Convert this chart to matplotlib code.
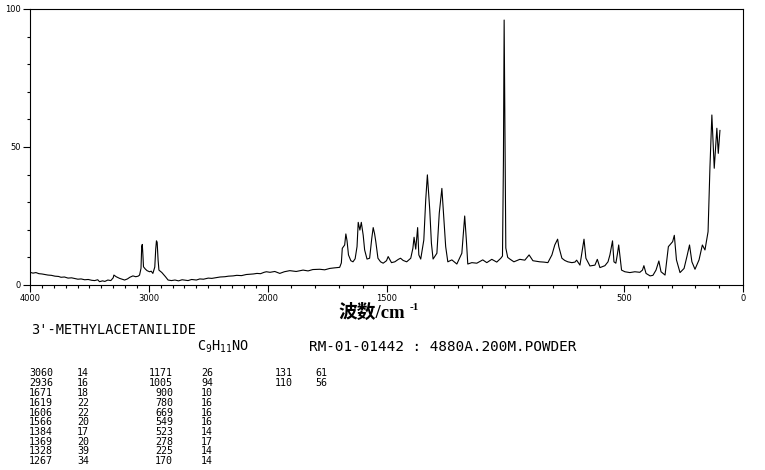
import numpy as np
from matplotlib import pyplot as plt
from matplotlib.ticker import MultipleLocator

# spectrum: wavenumber (cm-1) / relative intensity
wavenumber = [4000, 3975, 3950, 3925, 3900, 3875, 3849, 3820, 3790, 3760,
              3739, 3710, 3680, 3650, 3620, 3597, 3570, 3540, 3510, 3480,
              3456, 3430, 3415, 3390, 3370, 3345, 3320, 3300, 3294, 3275,
              3246, 3225, 3204, 3180, 3160, 3134, 3110, 3090, 3078, 3066,
              3060, 3055, 3050, 3045, 3030, 3015, 2994, 2980, 2966, 2950,
              2942, 2936, 2930, 2922, 2915, 2890, 2860, 2838, 2810, 2780,
              2750, 2720, 2690, 2670, 2640, 2600, 2571, 2540, 2500, 2470,
              2431, 2400, 2360, 2330, 2291, 2260, 2220, 2180, 2151, 2120,
              2090, 2060, 2030, 2011, 1990, 1970, 1949, 1930, 1907, 1880,
              1851, 1830, 1810, 1781, 1760, 1739, 1720, 1697, 1690, 1686,
              1676, 1671, 1666, 1660, 1650, 1641, 1632, 1624, 1619, 1612,
              1606, 1598, 1592, 1582, 1571, 1562, 1556, 1550, 1545, 1536,
              1525, 1514, 1500, 1493, 1485, 1479, 1465, 1450, 1441, 1430,
              1415, 1398, 1389, 1384, 1377, 1369, 1364, 1356, 1343, 1335,
              1328, 1318, 1311, 1304, 1288, 1278, 1267, 1259, 1251, 1242,
              1225, 1204, 1183, 1171, 1164, 1158, 1141, 1120, 1095, 1078,
              1057, 1036, 1019, 1012, 1008, 1005, 1002, 998, 990, 981,
              964, 950, 939, 918, 900, 884, 870, 855, 838, 821,
              804, 792, 780, 775, 762, 750, 737, 720, 707, 700,
              686, 676, 669, 661, 644, 623, 613, 602, 581, 568,
              560, 549, 543, 535, 529, 523, 511, 497, 476, 455,
              434, 423, 417, 408, 391, 379, 366, 354, 345, 328,
              314, 296, 289, 280, 265, 248, 236, 225, 215, 202,
              185, 171, 160, 147, 139, 131, 121, 110, 104, 97]
intensity = [4.6, 4.3, 4.5, 4.1, 4.0, 3.8, 3.6, 3.5, 3.2, 3.1,
             2.8, 2.9, 2.5, 2.6, 2.3, 2.1, 2.2, 1.9, 2.0, 1.7,
             1.6, 1.9, 1.2, 1.5, 1.3, 1.8, 1.6, 2.6, 3.6, 3.0,
             2.4, 2.1, 1.8, 2.2, 2.8, 3.3, 3.0, 3.2, 3.6, 6.0,
             14.0, 14.7, 11.0, 6.6, 5.8, 5.2, 4.8, 5.0, 4.2, 6.5,
             13.0, 16.0, 15.5, 9.0, 5.4, 4.5, 3.0, 1.8, 1.6, 1.8,
             1.5, 1.9, 1.7, 1.6, 2.0, 1.8, 2.2, 2.1, 2.5, 2.4,
             2.7, 2.9, 3.0, 3.2, 3.3, 3.5, 3.4, 3.8, 3.9, 4.0,
             4.2, 4.1, 4.6, 4.8, 4.6, 4.9, 4.2, 4.8, 5.2, 4.9,
             5.4, 5.1, 5.6, 5.7, 5.5, 6.0, 6.2, 6.4, 8.0, 13.3,
             14.5, 18.5, 16.0, 10.9, 8.8, 8.4, 9.5, 13.9, 22.7, 19.9,
             22.7, 18.0, 12.7, 9.4, 9.7, 16.9, 20.8, 18.5, 15.7, 9.7,
             8.4, 7.9, 8.8, 10.3, 9.0, 8.1, 8.4, 9.3, 9.7, 8.9,
             8.4, 9.7, 13.3, 17.3, 13.0, 20.8, 10.9, 9.4, 16.3, 30.8,
             39.9, 27.2, 15.1, 9.4, 11.5, 26.0, 35.0, 24.2, 13.9, 8.4,
             9.1, 7.6, 11.5, 25.0, 16.3, 7.6, 8.1, 7.9, 9.1, 8.1,
             9.3, 8.3, 9.7, 10.5, 45.0, 96.0, 60.0, 13.4, 10.0, 9.4,
             8.4, 8.9, 9.3, 9.0, 10.9, 8.8, 8.6, 8.4, 8.3, 8.1,
             10.9, 14.5, 16.6, 13.9, 9.7, 8.9, 8.4, 8.1, 8.3, 9.0,
             7.2, 12.7, 16.6, 9.7, 6.9, 7.2, 9.3, 6.3, 7.0, 8.4,
             10.9, 16.0, 8.4, 7.9, 10.9, 14.5, 5.4, 4.8, 4.5, 4.8,
             4.6, 5.4, 7.0, 4.2, 3.3, 3.5, 5.4, 8.7, 4.8, 3.6,
             13.9, 15.7, 18.0, 9.1, 4.5, 6.0, 10.3, 14.5, 8.4, 5.7,
             9.1, 14.5, 12.7, 19.3, 42.9, 61.6, 42.3, 56.8, 47.7, 56.0]

xtick_pos = [4000, 3000, 2000, 1500, 500, 0]
xtick_lab = ['4000', '3000', '2000', '1500', '500', '0']
ytick_pos = [0, 50, 100]

# peak table
peak_wn_1 = [3060, 2936, 1671, 1619, 1606, 1566, 1384, 1369, 1328, 1267]
peak_in_1 = [14, 16, 18, 22, 22, 20, 17, 20, 39, 34]
peak_wn_2 = [1171, 1005, 900, 780, 669, 549, 523, 278, 225, 170]
peak_in_2 = [26, 94, 10, 16, 16, 16, 14, 17, 14, 14]
peak_wn_3 = [131, 110]
peak_in_3 = [61, 56]

W, H = 765, 470


def fwd(w):
    w = np.asarray(w, dtype=float)
    return np.where(w <= 2000, w, 2000 + (w - 2000) / 2)


def inv(u):
    u = np.asarray(u, dtype=float)
    return np.where(u <= 2000, u, 2000 + 2 * (u - 2000))


def put(x, y, s, **kw):
    # place text by pixel position in the figure
    kw.setdefault('va', 'center')
    fig.text(x / W, 1 - y / H, s, color='black', **kw)


fig = plt.figure(figsize=(W / 100, H / 100), dpi=100)
ax = fig.add_axes([30 / W, 1 - 285 / H, 713 / W, 276 / H])
ax.set_xscale('function', functions=(fwd, inv))
ax.plot(wavenumber, intensity, color='black', lw=0.8)
ax.set_xlim(4000, 0)
ax.set_ylim(0, 100)

ax.set_xticks(xtick_pos)
ax.set_xticklabels(xtick_lab)
ax.xaxis.set_minor_locator(MultipleLocator(100))
ax.set_yticks(ytick_pos)
ax.yaxis.set_minor_locator(MultipleLocator(10))
ax.tick_params(which='both', direction='out', width=0.8, color='black',
               labelsize=6, pad=1.5)
ax.tick_params(which='major', length=5)
ax.tick_params(which='minor', length=2.5)
for sp in ax.spines.values():
    sp.set_linewidth(0.8)

lab_font = ['Liberation Serif', 'Noto Sans CJK SC']
put(338, 313, '波数/cm', ha='left', size=13.5, weight='bold', family=lab_font)
put(410, 308, '-1', ha='left', size=8, weight='bold', family=lab_font)

mono = 'DejaVu Sans Mono'
put(31, 330, "3'-METHYLACETANILIDE", family=mono, size=9.8)
put(197, 347, r'C$_\mathregular{9}$H$_\mathregular{11}$NO', family=mono, size=9.8)
put(309, 347, 'RM-01-01442 : 4880A.200M.POWDER', family=mono, size=10.4)

row0, step = 373.5, 9.75
for i in range(len(peak_wn_1)):
    y = row0 + i * step
    put(29, y, str(peak_wn_1[i]), family=mono, size=7.2)
    put(77, y, str(peak_in_1[i]), family=mono, size=7.2)
for i in range(len(peak_wn_2)):
    y = row0 + i * step
    put(173, y, str(peak_wn_2[i]), family=mono, size=7.2, ha='right')
    put(201, y, str(peak_in_2[i]), family=mono, size=7.2)
for i in range(len(peak_wn_3)):
    y = row0 + i * step
    put(293, y, str(peak_wn_3[i]), family=mono, size=7.2, ha='right')
    put(315, y, str(peak_in_3[i]), family=mono, size=7.2)

fig.savefig('out.png', dpi=100)
